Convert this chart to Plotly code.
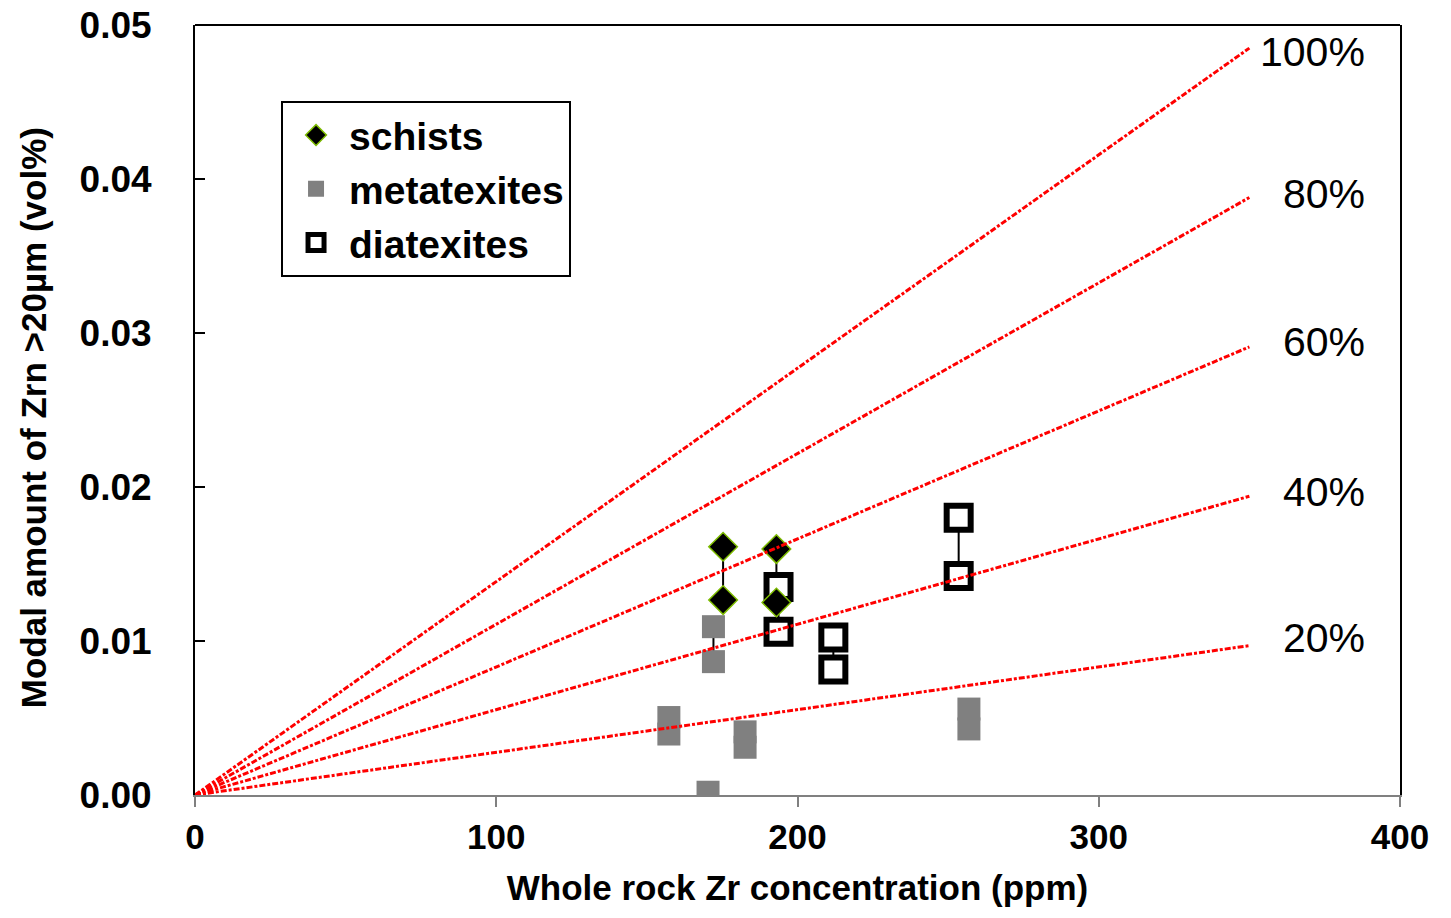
import plotly.graph_objects as go

# ---- data ----
schist_x = [175.3, 175.3, 193.0, 193.0]
schist_y = [0.01612, 0.01266, 0.01597, 0.01250]

meta_x = [172.1, 172.1, 157.3, 157.3, 182.6, 182.6, 170.3, 256.9, 256.9]
meta_y = [0.01093, 0.00866, 0.00503, 0.00396, 0.00410, 0.00310, 0.00018, 0.00558, 0.00429]

diat_x = [193.7, 193.7, 211.9, 211.9, 253.5, 253.5]
diat_y = [0.01350, 0.01060, 0.01023, 0.00815, 0.01800, 0.01422]

# pairs joined by a vertical line (x, y_top, y_bottom)
pair_x = [175.3, 193.0, 172.1, 193.7, 211.9, 253.5]
pair_top = [0.01612, 0.01597, 0.01093, 0.01350, 0.01023, 0.01800]
pair_bot = [0.01266, 0.01250, 0.00866, 0.01060, 0.00815, 0.01422]

# reference lines: % of whole-rock Zr in zircon >20um
ref_pct = [100, 80, 60, 40, 20]
ref_x_end = 350
ref_y_end = [0.0485, 0.0388, 0.0291, 0.0194, 0.0097]
ref_labels = ["100%", "80%", "60%", "40%", "20%"]

x_ticks = [0, 100, 200, 300, 400]
y_ticks = [0.00, 0.01, 0.02, 0.03, 0.04, 0.05]
y_ticklabels = ["0.00", "0.01", "0.02", "0.03", "0.04", "0.05"]

# ---- figure ----
fig = go.Figure()

lx, ly = [], []
for x, t, b in zip(pair_x, pair_top, pair_bot):
    lx += [x, x, None]
    ly += [t, b, None]
fig.add_trace(go.Scatter(x=lx, y=ly, mode="lines", line=dict(color="black", width=2),
                         showlegend=False, hoverinfo="skip"))

fig.add_trace(go.Scatter(x=diat_x, y=diat_y, mode="markers", name="diatexites", legendrank=3,
                         marker=dict(symbol="square", size=24, color="white",
                                     line=dict(color="black", width=6))))
fig.add_trace(go.Scatter(x=meta_x, y=meta_y, mode="markers", name="metatexites", legendrank=2,
                         marker=dict(symbol="square", size=23, color="#808080", line=dict(width=0))))
fig.add_trace(go.Scatter(x=schist_x, y=schist_y, mode="markers", name="schists", legendrank=1,
                         marker=dict(symbol="diamond", size=22, color="black",
                                     line=dict(color="#7dbb00", width=1.5))))

for p, ye in zip(ref_pct, ref_y_end):
    fig.add_trace(go.Scatter(x=[0, ref_x_end], y=[0, ye], mode="lines",
                             line=dict(color="#ff0000", width=3, dash="6px,2px,3px,2px"),
                             showlegend=False, hoverinfo="skip"))

label_dy = [-0.00025, 0.0002, 0.0003, 0.0003, 0.0005]
for lab, ye, dy in zip(ref_labels, ref_y_end, label_dy):
    fig.add_annotation(x=389.2, y=ye + dy, text=lab, showarrow=False, xanchor="right",
                       yanchor="middle", font=dict(family="Liberation Sans, Arial", size=41, color="black"))

bold = "Liberation Sans, Arial"
fig.add_annotation(xref="paper", yref="paper", x=-0.134, y=0.49, textangle=-90,
                   text="Modal amount of Zrn >20µm (vol%)", showarrow=False,
                   xanchor="center", yanchor="middle",
                   font=dict(size=35, family=bold, weight="bold", color="black"))

fig.update_layout(
    width=1451, height=918,
    margin=dict(l=195, r=51, t=25, b=123),
    paper_bgcolor="white", plot_bgcolor="white",
    font=dict(family=bold, color="black"),
    legend=dict(x=0.0714, y=0.901, xanchor="left", yanchor="top",
                bordercolor="black", borderwidth=2, bgcolor="white",
                font=dict(family=bold, size=39, color="black", weight="bold"),
                traceorder="normal", itemsizing="trace", itemwidth=56, tracegroupgap=0),
    showlegend=True,
)
fig.update_xaxes(range=[0, 400], tickvals=x_ticks, showgrid=False, zeroline=False,
                 showline=True, linecolor="#808080", linewidth=2, automargin=False,
                 ticks="outside", ticklen=10, tickcolor="#808080", tickwidth=2,
                 tickfont=dict(size=35, family=bold, weight="bold"), ticklabelstandoff=0,
                 title=dict(text="Whole rock Zr concentration (ppm)", standoff=20,
                            font=dict(size=35, family=bold, weight="bold")))
fig.update_yaxes(range=[0, 0.05], tickvals=y_ticks, ticktext=y_ticklabels, showgrid=False,
                 zeroline=False, showline=True, linecolor="black", linewidth=2, mirror=True,
                 automargin=False, ticklabeloverflow="allow",
                 ticks="inside", ticklen=10, tickcolor="black", tickwidth=2,
                 tickfont=dict(size=37, family=bold, weight="bold"), ticklabelstandoff=34)
fig.add_shape(type="line", xref="paper", yref="paper", x0=0, x1=1, y0=1, y1=1,
              line=dict(color="black", width=2))

fig.write_html("out.html", config={"displayModeBar": False},
               post_script="document.body.style.margin='0px';")
